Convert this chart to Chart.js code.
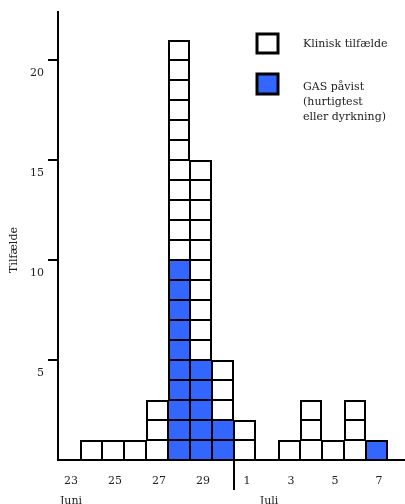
<!DOCTYPE html>
<html>
<head>
<meta charset="utf-8">
<title>Tilfælde</title>
<script src="https://cdn.jsdelivr.net/npm/chart.js"></script>
<style>
  html, body { margin: 0; padding: 0; background: #fff; }
  #wrap { width: 405px; height: 504px; }
</style>
</head>
<body>
<div id="wrap"><canvas id="epiChart" width="405" height="504"></canvas></div>
<script>
// dage fra 23. juni til 7. juli
const dayLabels = ['23', '24', '25', '26', '27', '28', '29', '30', '1', '2', '3', '4', '5', '6', '7'];
const monthLabels = ['Juni', 'Juli'];
const monthAt = [0, 9];
// kliniske tilfælde (hvide) og GAS påvist (blå) pr. dag
const clinicalCases = [0, 1, 1, 1, 3, 11, 10, 3, 2, 0, 1, 3, 1, 3, 0];
const gasCases = [0, 0, 0, 0, 0, 10, 5, 2, 0, 0, 0, 0, 0, 0, 1];
const yTicks = [5, 10, 15, 20];
const legendLabels = ['Klinisk tilfælde', 'GAS påvist', '(hurtigtest', 'eller dyrkning)'];

const BLUE = '#3366ff';
const INK = '#222';
const FONT = { family: '"DejaVu Serif", serif', size: 11 };

const totals = clinicalCases.map((c, i) => c + gasCases[i]);
const maxLevel = Math.max(...totals);
const heightAt = j => (j >= 0 && j < totals.length) ? totals[j] : 0;

// en dataset pr. "etage" så hvert tilfælde bliver sin egen firkant
const datasets = [];
for (let k = 1; k <= maxLevel; k++) {
  datasets.push({
    label: 'niveau ' + k,
    data: totals.map((t, i) => t >= k ? { x: i, y: 1 } : null).filter(Boolean),
    backgroundColor: ctx => (ctx.raw && k <= gasCases[ctx.raw.x]) ? BLUE : '#fff',
    borderColor: '#000',
    borderWidth: ctx => {
      if (!ctx.raw) return 1;
      const i = ctx.raw.x;
      return {
        top: k === totals[i] ? 2 : 1,
        bottom: 1,
        left: heightAt(i - 1) >= k ? 1 : 2,
        right: heightAt(i + 1) >= k ? 1 : 2
      };
    }
  });
}

const extras = {
  id: 'extras',
  afterDraw(chart) {
    const { ctx, scales: { x, y } } = chart;
    ctx.save();
    // skillelinje mellem juni og juli
    const split = (x.getPixelForValue(7) + x.getPixelForValue(8)) / 2;
    ctx.strokeStyle = '#000';
    ctx.lineWidth = 2;
    ctx.beginPath();
    ctx.moveTo(split, y.bottom);
    ctx.lineTo(split, y.bottom + 30);
    ctx.stroke();

    ctx.fillStyle = INK;
    ctx.font = '11px "DejaVu Serif", serif';
    ctx.textAlign = 'center';
    ctx.textBaseline = 'middle';
    monthLabels.forEach((m, n) => ctx.fillText(m, x.getPixelForValue(monthAt[n]) + 2, 501));

    // y-aksens titel
    ctx.save();
    ctx.translate(14, 250);
    ctx.rotate(-Math.PI / 2);
    ctx.fillText('Tilfælde', 0, 0);
    ctx.restore();

    // forklaring
    ctx.lineWidth = 3;
    ctx.fillStyle = '#fff';
    ctx.fillRect(257, 34, 21, 19);
    ctx.strokeRect(257, 34, 21, 19);
    ctx.fillStyle = BLUE;
    ctx.fillRect(257, 74, 21, 20);
    ctx.strokeRect(257, 74, 21, 20);
    ctx.fillStyle = INK;
    ctx.textAlign = 'left';
    ctx.fillText(legendLabels[0], 303, 44);
    ctx.fillText(legendLabels[1], 303, 87);
    ctx.fillText(legendLabels[2], 303, 102);
    ctx.fillText(legendLabels[3], 303, 117);
    ctx.restore();
  }
};

new Chart(document.getElementById('epiChart'), {
  type: 'bar',
  data: { datasets },
  plugins: [extras],
  options: {
    responsive: false,
    animation: false,
    layout: { padding: { top: 12, left: 0, right: 0, bottom: 0 } },
    plugins: { legend: { display: false }, tooltip: { enabled: false } },
    datasets: {
      bar: { barPercentage: 1, categoryPercentage: 1, inflateAmount: 0, borderSkipped: false }
    },
    scales: {
      x: {
        type: 'linear',
        min: -0.5,
        max: -0.5 + 347 / 22,
        offset: false,
        stacked: true,
        grid: { display: false, drawTicks: false },
        border: { display: true, color: '#000', width: 2 },
        afterBuildTicks: s => { s.ticks = dayLabels.map((d, i) => ({ value: i })).filter(t => t.value % 2 === 0); },
        ticks: {
          autoSkip: false, maxRotation: 0, padding: 15, labelOffset: 2,
          color: INK, font: FONT,
          callback: v => dayLabels[v]
        },
        afterFit: s => { s.height = 44; }
      },
      y: {
        min: 0,
        max: 22.4, // 20 px pr. tilfælde -> skarpe linjer
        stacked: true,
        afterBuildTicks: s => { s.ticks = yTicks.map(v => ({ value: v })); },
        grid: { drawOnChartArea: false, drawTicks: true, tickLength: 10, color: '#000', lineWidth: 2 },
        border: { display: true, color: '#000', width: 2 },
        ticks: { padding: 4, labelOffset: 13, color: INK, font: FONT },
        afterFit: s => { s.width = 58; }
      }
    }
  }
});
</script>
</body>
</html>
